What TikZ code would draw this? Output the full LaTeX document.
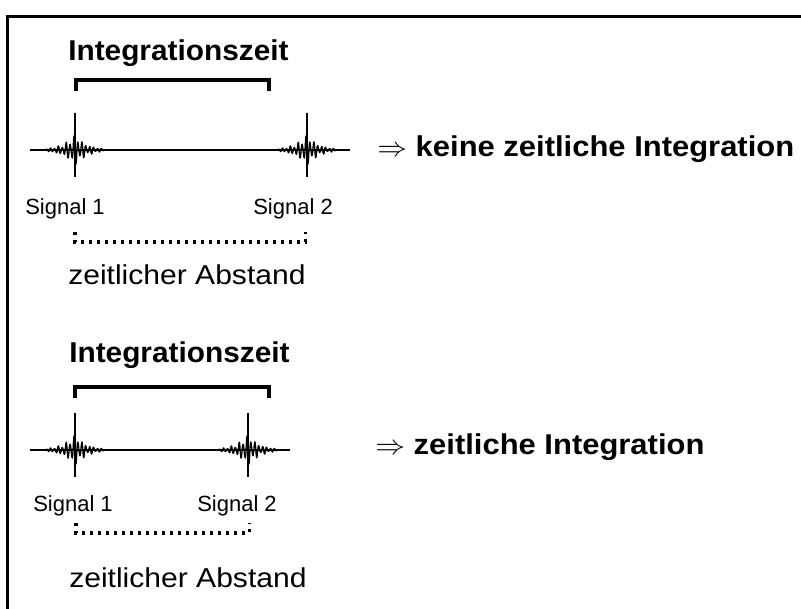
\documentclass[tikz,border=0pt]{standalone}
\usepackage{fontspec}
\usepackage{graphicx}
\setmainfont{Liberation Sans}
\newcommand{\burst}[2]{%
  \draw[wave] plot[domain=-29:29,samples=401,variable=\t]
    ({#1+\t},{#2+(8*exp(-(\t/7)^2)+7*exp(-(\t/22)^2))*sin(\t*92)*(0.72+0.28*cos(\t*43))});
  \draw[spike] (#1,#2-37) -- (#1,#2+27);}
\begin{document}
\begin{tikzpicture}[x=0.75pt,y=-0.75pt,
  wave/.style={line width=1pt},
  spike/.style={line width=1.9pt},
  brk/.style={line width=3pt},
  dotbrk/.style={line width=2.6pt,dash pattern=on 2.6pt off 3.4pt},
  bold/.style={inner sep=0pt,anchor=base west,font=\fontsize{21.5}{24}\selectfont\bfseries},
  lbl/.style={inner sep=0pt,anchor=base west,font=\fontsize{16.5}{18}\selectfont},
  dist/.style={inner sep=0pt,anchor=base west,font=\fontsize{20.5}{23}\selectfont}]
\useasboundingbox (0,0) rectangle (801,609);
\clip (0,0) rectangle (801,609);
\draw[line width=2.25pt] (7,17) rectangle (830,640);

% ---------- top section ----------
\node[bold] (iz1) at (68,60.5) {\scalebox{1.04}[1]{Integrationszeit}};
\draw[brk] (75.5,91) -- (75.5,80.5) -- (269,80.5) -- (269,91);
\draw[wave] (30,150) -- (350,150);
\burst{75}{150}
\burst{307}{150}
\node[bold] (r1) at (377,157) {\scalebox{1.08}[1]{$\Rightarrow$ keine zeitliche Integration}};
\node[lbl] (s11) at (25,215) {Signal 1};
\node[lbl] (s12) at (253,215) {Signal 2};
\draw[dotbrk] (75,232) -- (75,242) -- (305.5,242) -- (305.5,232);
\node[dist] (a1) at (68,285) {\scalebox{1.1}[1]{zeitlicher Abstand}};

% ---------- bottom section ----------
\node[bold] (iz2) at (69,363) {\scalebox{1.04}[1]{Integrationszeit}};
\draw[brk] (75,398) -- (75,387) -- (269,387) -- (269,398);
\draw[wave] (30,450) -- (290,450);
\burst{75}{450}
\burst{248}{450}
\node[bold] (r2) at (375,455) {\scalebox{1.08}[1]{$\Rightarrow$ zeitliche Integration}};
\node[lbl] (s21) at (33,512) {Signal 1};
\node[lbl] (s22) at (197,512) {Signal 2};
\draw[dotbrk] (76,523) -- (76,533) -- (249.5,533) -- (249.5,523);
\node[dist] (a2) at (69,588) {\scalebox{1.1}[1]{zeitlicher Abstand}};
\end{tikzpicture}
\end{document}
